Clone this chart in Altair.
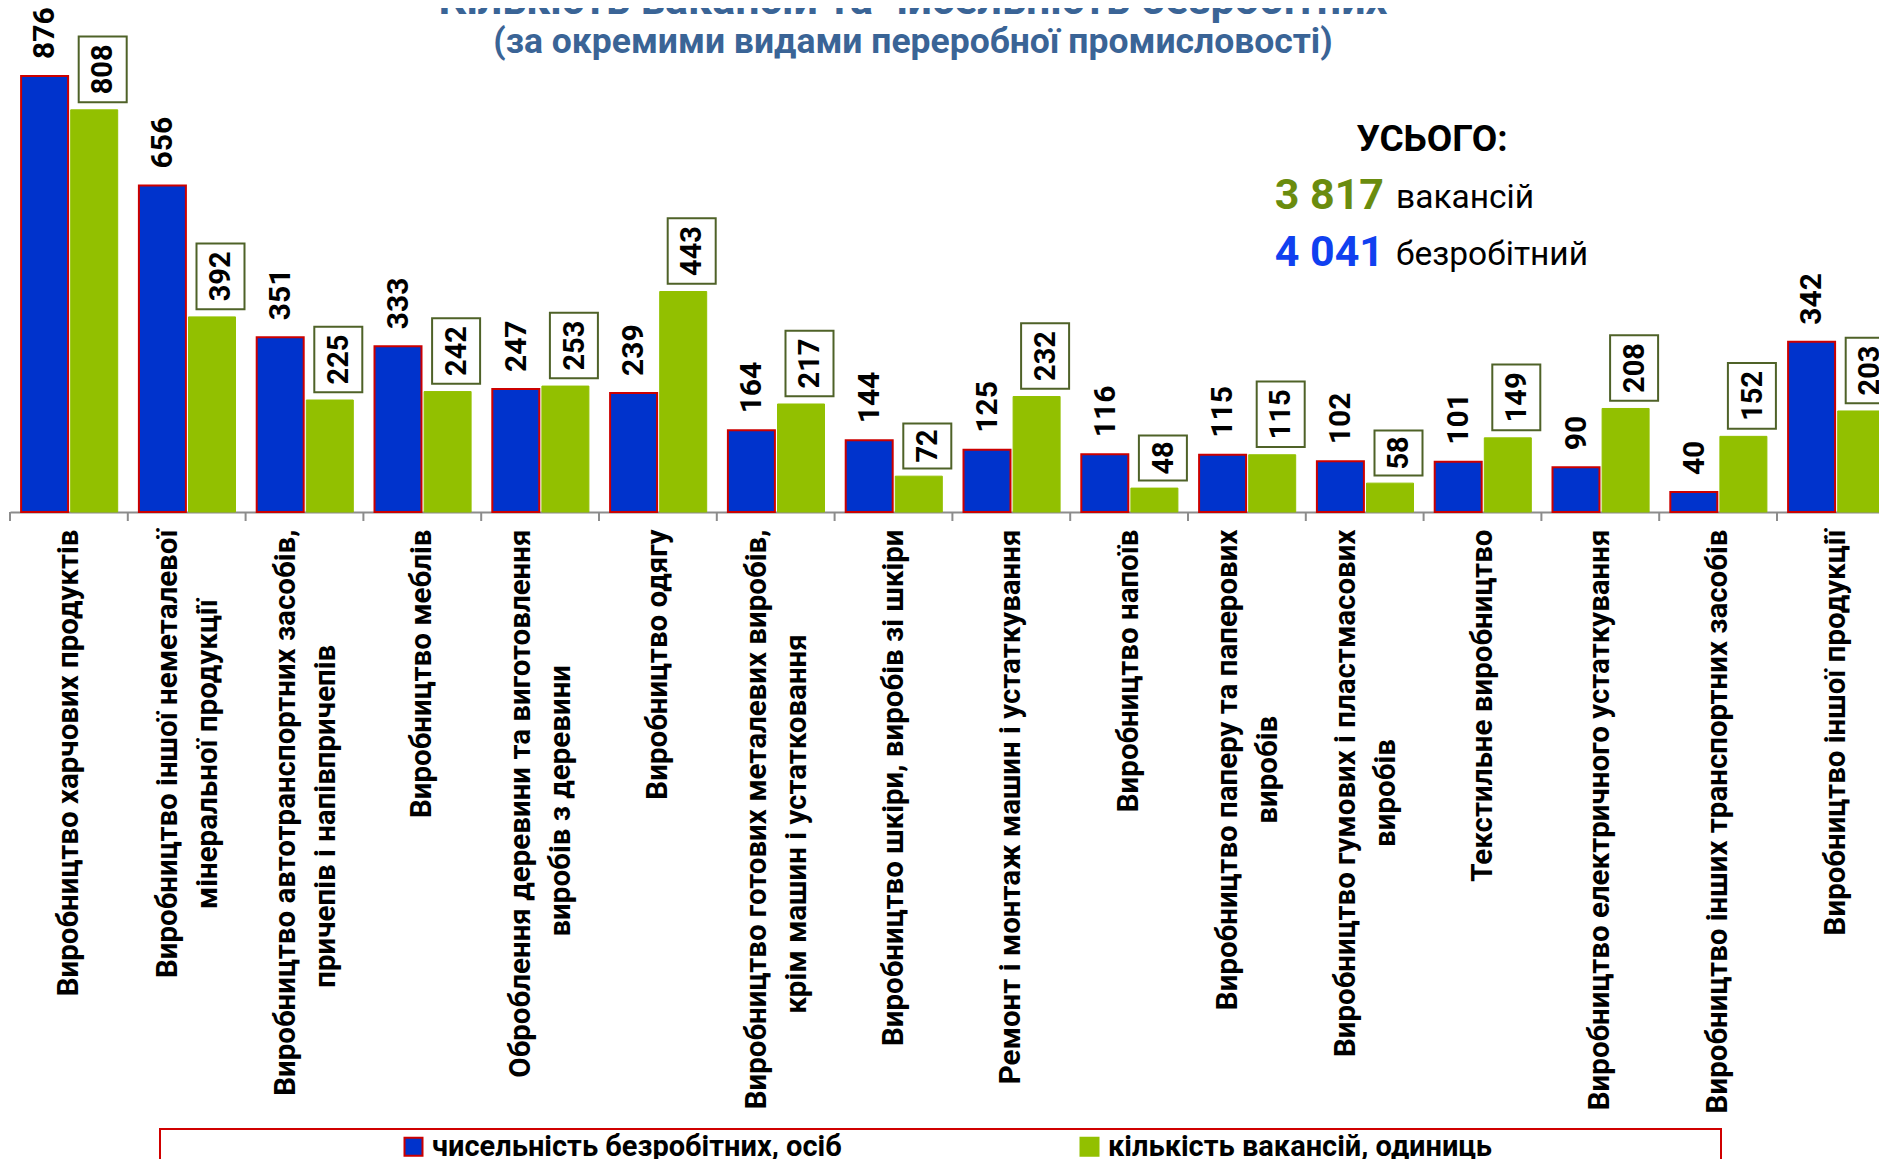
import altair as alt
import pandas as pd

# ---------------- data ----------------
categories = [
    "Виробництво харчових продуктів",
    "Виробництво іншої неметалевої|мінеральної продукції",
    "Виробництво автотранспортних засобів,|причепів і напівпричепів",
    "Виробництво меблів",
    "Оброблення деревини та виготовлення|виробів з деревини",
    "Виробництво одягу",
    "Виробництво готових металевих виробів,|крім машин і устатковання",
    "Виробництво шкіри, виробів зі шкіри",
    "Ремонт і монтаж машин і устаткування",
    "Виробництво напоїв",
    "Виробництво паперу та паперових|виробів",
    "Виробництво гумових і пластмасових|виробів",
    "Текстильне виробництво",
    "Виробництво електричного устаткування",
    "Виробництво інших транспортних засобів",
    "Виробництво іншої продукції",
]
unemployed = [876, 656, 351, 333, 247, 239, 164, 144, 125, 116, 115, 102, 101, 90, 40, 342]
vacancies = [808, 392, 225, 242, 253, 443, 217, 72, 232, 48, 115, 58, 149, 208, 152, 203]
series_names = ["чисельність безробітних, осіб", "кількість вакансій, одиниць"]

title_text = "Кількість вакансій та  чисельність безробітних"
subtitle_text = "(за окремими видами переробної промисловості)"
total_head = "УСЬОГО:"
total_vac_num = "3 817"
total_vac_word = "вакансій"
total_unemp_num = "4 041"
total_unemp_word = "безробітний"

BLUE = "#0033CC"
GREEN = "#92C000"
RED = "#CC0000"
BOXC = "#4F6228"
TITLEC = "#3A6496"
FONT = "Roboto"

rows = []
for c, u, v in zip(categories, unemployed, vacancies):
    rows.append({"cat": c, "series": series_names[0], "value": u})
    rows.append({"cat": c, "series": series_names[1], "value": v})
df = pd.DataFrame(rows)

STEP = 117.8
xscale = alt.Scale(domain=categories, range=[0, STEP * len(categories)],
                   paddingInner=0, paddingOuter=0)
yscale = alt.Scale(domain=[0, 1012.6], nice=False, zero=True)
pixscale = alt.Scale(domain=[0, 1000], range=[0, 1000], nice=False, zero=False)

xaxis = alt.Axis(title=None, labels=False, ticks=False, tickSize=0, grid=False,
                 domainColor="#8C8C8C", domainWidth=2)


def X():
    return alt.X("cat:N", scale=xscale, sort=categories, axis=xaxis)


Y = alt.Y("value:Q", scale=yscale, axis=None)

legend = alt.Legend(orient="none", legendX=389, legendY=1124, direction="horizontal",
                    title=None, symbolType="square", symbolSize=324, symbolStrokeWidth=2,
                    labelFont=FONT, labelFontSize=29, labelFontWeight="bold",
                    labelColor="black", labelOffset=4, columnPadding=233,
                    labelLimit=800, padding=0)
fill_enc = alt.Fill("series:N", scale=alt.Scale(domain=series_names, range=[BLUE, GREEN]),
                    legend=legend)
stroke_enc = alt.Stroke("series:N", scale=alt.Scale(domain=series_names, range=[RED, GREEN]),
                        legend=legend)

base = alt.Chart(df)
s0 = f"datum.series === '{series_names[0]}'"
s1 = f"datum.series === '{series_names[1]}'"

ticks = base.transform_filter(s0).mark_rule(
    xOffset=-STEP / 2, color="#8C8C8C", strokeWidth=2
).encode(x=X(), y=alt.value(504), y2=alt.value(513))

# category labels (rotated, one or two lines; second line centred under the first)
LABEL_TOP = 521.5
cats = base.transform_filter(s0).transform_calculate(
    line1="split(datum.cat, '|')[0]",
    line2="length(split(datum.cat, '|')) > 1 ? split(datum.cat, '|')[1] : ''",
    nlines="length(split(datum.cat, '|'))",
).transform_calculate(
    l2y=f"{LABEL_TOP} + 7.75 * length(datum.line1)"
)
LBL = dict(angle=270, baseline="middle", font=FONT, fontSize=29.5,
           fontWeight="bold", color="black")
lab_single = cats.transform_filter("datum.nlines == 1").mark_text(align="right", **LBL).encode(
    x=X(), y=alt.value(LABEL_TOP), text="line1:N")
lab_first = cats.transform_filter("datum.nlines == 2").mark_text(
    align="right", xOffset=-19, **LBL).encode(
    x=X(), y=alt.value(LABEL_TOP), text="line1:N")
lab_second = cats.transform_filter("datum.nlines == 2").mark_text(
    align="center", xOffset=21, **LBL).encode(
    x=X(), y=alt.Y("l2y:Q", scale=pixscale, axis=None), text="line2:N")

bars_u = base.transform_filter(s0).mark_bar(width=47, xOffset=-24.3, strokeWidth=2).encode(
    x=X(), y=Y, fill=fill_enc, stroke=stroke_enc)
bars_v = base.transform_filter(s1).mark_bar(width=47, xOffset=25.3, strokeWidth=1).encode(
    x=X(), y=Y, fill=fill_enc, stroke=stroke_enc)

text_u = base.transform_filter(s0).mark_text(
    angle=270, align="left", baseline="middle", font=FONT, fontSize=30,
    fontWeight="bold", color="black", xOffset=-23.5, yOffset=-17
).encode(x=X(), y=Y, text=alt.Text("value:Q"))

box3 = base.transform_filter(s1 + " && datum.value >= 100").mark_bar(
    width=48, xOffset=33.8, yOffset=-7.7, y2Offset=-73.3, fill="white",
    stroke=BOXC, strokeWidth=2
).encode(x=X(), y=Y, y2=alt.Y2("value:Q"))
box2 = base.transform_filter(s1 + " && datum.value < 100").mark_bar(
    width=48, xOffset=33.8, yOffset=-7.7, y2Offset=-52.7, fill="white",
    stroke=BOXC, strokeWidth=2
).encode(x=X(), y=Y, y2=alt.Y2("value:Q"))

text_v3 = base.transform_filter(s1 + " && datum.value >= 100").mark_text(
    angle=270, align="center", baseline="middle", font=FONT, fontSize=29,
    fontWeight="bold", color="black", xOffset=34.5, yOffset=-40.5
).encode(x=X(), y=Y, text=alt.Text("value:Q"))
text_v2 = base.transform_filter(s1 + " && datum.value < 100").mark_text(
    angle=270, align="center", baseline="middle", font=FONT, fontSize=29,
    fontWeight="bold", color="black", xOffset=34.5, yOffset=-30.2
).encode(x=X(), y=Y, text=alt.Text("value:Q"))


def note(txt, x, y, size, color, weight="bold", align="center", baseline="middle"):
    return alt.Chart(pd.DataFrame({"t": [txt]})).mark_text(
        font=FONT, fontSize=size, fontWeight=weight, color=color, align=align,
        baseline=baseline
    ).encode(x=alt.value(x), y=alt.value(y), text="t:N")


title = note(title_text, 903, 6, 43, TITLEC, baseline="alphabetic")
subtitle = note(subtitle_text, 903, 34, 35.5, TITLEC)
head = note(total_head, 1422, 132, 37, "black")
vac_num = note(total_vac_num, 1374, 188, 43, "#6A8C0E", align="right")
vac_word = note(total_vac_word, 1386, 190, 33.5, "black", weight="normal", align="left")
un_num = note(total_unemp_num, 1374, 245, 43, "#1040F0", align="right")
un_word = note(total_unemp_word, 1386, 247, 33.5, "black", weight="normal", align="left")

legend_box = alt.Chart(pd.DataFrame({"t": [0]})).mark_rect(
    fill="white", stroke="#D00000", strokeWidth=2
).encode(x=alt.value(150), x2=alt.value(1711), y=alt.value(1121), y2=alt.value(1220))

chart = alt.layer(
    bars_u, legend_box, ticks, bars_v, text_u, box3, box2, text_v3, text_v2,
    lab_single, lab_first, lab_second,
    title, subtitle, head, vac_num, vac_word, un_num, un_word
).resolve_scale(
    y="independent"
).properties(
    width=1869, height=504,
    padding={"left": 2, "top": 0, "right": 0, "bottom": 647},
    autosize=alt.AutoSizeParams(type="none"),
    background="white",
).configure_view(strokeWidth=0)

chart.save("out.html", embed_options={"renderer": "svg", "actions": False})
